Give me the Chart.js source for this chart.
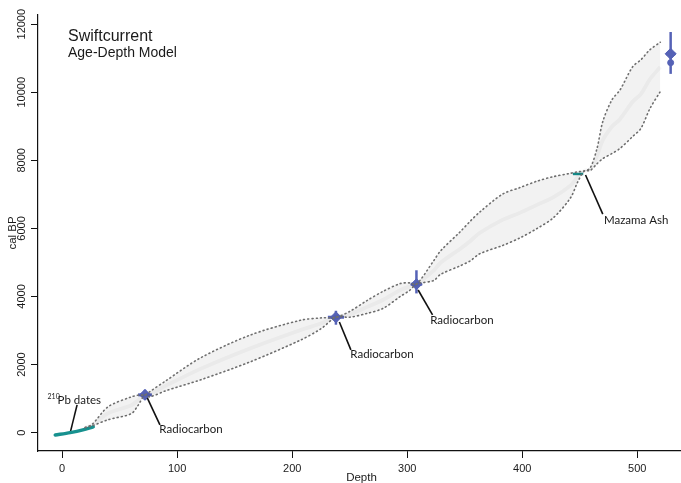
<!DOCTYPE html>
<html>
<head>
<meta charset="utf-8">
<script src="https://cdn.jsdelivr.net/npm/chart.js@4.4.1/dist/chart.umd.min.js"></script>
<style>
  html, body { margin: 0; padding: 0; background: #fff; overflow: hidden; }
  #wrap { width: 681px; height: 483px; position: relative; }
</style>
</head>
<body>
<div id="wrap"><canvas id="ageDepth"></canvas></div>
<script>
/* ---------- DATA ---------- */

const titleMain = "Swiftcurrent";
const titleSub = "Age-Depth Model";
const xTitle = "Depth";
const yTitle = "cal BP";

const xTicks = [0, 100, 200, 300, 400, 500];
const yTicks = [0, 2000, 4000, 6000, 8000, 10000, 12000];

// model envelope (dotted bounds) and mean
const envDepth = [20, 26, 40, 60, 66, 72, 76, 90, 120, 163, 207, 225, 238, 250, 265, 279, 294, 302, 308, 323, 329, 346, 355, 363, 383, 398, 413, 427, 442, 448, 454, 459, 465, 470, 478, 485, 496, 503, 511, 520];
const envUpper = [150, 240, 760, 1050, 1100, 1110, 1200, 1520, 2190, 2860, 3300, 3370, 3390, 3560, 3880, 4150, 4380, 4400, 4360, 5050, 5340, 5900, 6220, 6480, 7010, 7200, 7390, 7520, 7620, 7660, 7690, 7770, 8350, 9140, 9780, 10070, 10750, 10950, 11250, 11470];
const envLower = [150, 200, 380, 555, 800, 1110, 1050, 1230, 1547, 2073, 2715, 3050, 3390, 3390, 3500, 3650, 4000, 4175, 4360, 4470, 4650, 4900, 5050, 5255, 5500, 5720, 6000, 6310, 6900, 7350, 7690, 7700, 7900, 8050, 8200, 8350, 8700, 8930, 9520, 10020];
const envMean = [150, 220, 570, 800, 950, 1110, 1125, 1375, 1870, 2470, 3010, 3210, 3390, 3475, 3690, 3900, 4190, 4290, 4360, 4760, 4995, 5400, 5635, 5870, 6255, 6460, 6695, 6915, 7260, 7505, 7690, 7735, 8125, 8595, 8990, 9210, 9725, 9940, 10385, 10745];

// radiocarbon dates (calibrated)
const rcDepth = [72, 238, 308, 529];
const rcAge = [1110, 3390, 4360, 11130];
const rcAgeLo = [960, 3170, 4090, 10540];
const rcAgeHi = [1260, 3580, 4770, 11770];
const rcDepthLo = [66, 231, 303, 525];
const rcDepthHi = [78, 245, 313, 533];
const rcBulgeDepth = [529];
const rcBulgeAge = [10870];

// 210Pb dates
const pbDepth = [-6, 7, 18, 27];
const pbAge = [-70, 0, 80, 170];

// Mazama ash
const ashDepth = [444, 453];
const ashAge = [7600, 7600];

// annotation leaders and labels
const noteText = ["Pb dates", "Radiocarbon", "Radiocarbon", "Radiocarbon", "Mazama Ash"];
const noteFromDepth = [7, 74, 241, 309.5, 455];
const noteFromAge = [0, 1020, 3250, 4190, 7570];
const noteToDepth = [13, 85, 251, 322, 470];
const noteToAge = [815, 225, 2430, 3460, 6420];
const noteLabelDepth = [-4, 84.5, 250.5, 320, 471];
const noteLabelAge = [960, 110, 2310, 3310, 6250];

/* ---------- COLORS ---------- */

const blue = "#5562b6";
const teal = "#17918f";
const dotGrey = "#6f6f6f";
const fontAxis = '"Liberation Sans", Arial, Helvetica, sans-serif';
const fontNote = 'Lato, "Open Sans", sans-serif';

/* ---------- DATASETS ---------- */

const pts = (xs, ys) => xs.map((x, i) => ({ x, y: ys[i] }));

const datasets = [
  {
    data: pts(envDepth, envUpper),
    borderColor: dotGrey,
    borderWidth: 1.6,
    borderDash: [1, 3.2],
    borderCapStyle: "round",
    backgroundColor: "rgba(0,0,0,0.05)",
    fill: "+1",
    pointRadius: 0,
    tension: 0.3,
  },
  {
    data: pts(envDepth, envLower),
    borderColor: dotGrey,
    borderWidth: 1.6,
    borderDash: [1, 3.2],
    borderCapStyle: "round",
    fill: false,
    pointRadius: 0,
    tension: 0.3,
  },
  {
    data: pts(envDepth, envMean),
    borderColor: "rgba(0,0,0,0.035)",
    borderWidth: 4,
    fill: false,
    pointRadius: 0,
    tension: 0.3,
  },
  {
    data: pts(pbDepth, pbAge),
    borderColor: teal,
    borderWidth: 3.5,
    borderCapStyle: "round",
    fill: false,
    pointRadius: 0,
    tension: 0.3,
  },
  {
    data: pts(ashDepth, ashAge),
    borderColor: teal,
    borderWidth: 2.5,
    fill: false,
    pointRadius: 0,
  },
];

// annotation leaders
noteText.forEach((t, i) => {
  datasets.push({
    data: [
      { x: noteFromDepth[i], y: noteFromAge[i] },
      { x: noteToDepth[i], y: noteToAge[i] },
    ],
    borderColor: "#111",
    borderWidth: 1.6,
    fill: false,
    pointRadius: 0,
  });
});

// radiocarbon probability crosses
rcDepth.forEach((d, i) => {
  datasets.push({
    data: [
      { x: d, y: rcAgeLo[i] },
      { x: d, y: rcAgeHi[i] },
    ],
    borderColor: blue,
    borderWidth: 2.5,
    fill: false,
    pointRadius: 0,
  });
  datasets.push({
    data: [
      { x: rcDepthLo[i], y: rcAge[i] },
      { x: rcDepthHi[i], y: rcAge[i] },
    ],
    borderColor: blue,
    borderWidth: 3,
    fill: false,
    pointRadius: 0,
  });
});

datasets.push({
  type: "scatter",
  data: pts(rcDepth, rcAge),
  pointStyle: "rectRot",
  pointRadius: 5.5,
  backgroundColor: blue,
  borderColor: blue,
  borderWidth: 1,
});

datasets.push({
  type: "scatter",
  data: pts(rcBulgeDepth, rcBulgeAge),
  pointStyle: "circle",
  pointRadius: 3,
  backgroundColor: blue,
  borderColor: blue,
});

/* ---------- TEXT PLUGIN ---------- */

const textPlugin = {
  id: "textPlugin",
  afterDraw(chart) {
    const { ctx, scales } = chart;
    const x = scales.x;
    const y = scales.y;
    const area = chart.chartArea;
    ctx.save();
    ctx.fillStyle = "#1a1a1a";

    // title block
    ctx.textAlign = "left";
    ctx.textBaseline = "alphabetic";
    ctx.font = "16px " + fontAxis;
    ctx.fillText(titleMain, 68, 41);
    ctx.font = "14px " + fontAxis;
    ctx.fillText(titleSub, 68, 57);

    // y tick labels, rotated like base R
    ctx.font = "11px " + fontAxis;
    ctx.textAlign = "center";
    ctx.textBaseline = "middle";
    yTicks.forEach((v) => {
      const py = y.getPixelForValue(v);
      ctx.save();
      ctx.translate(22, py);
      ctx.rotate(-Math.PI / 2);
      ctx.fillText(String(v), 0, 0);
      ctx.restore();
    });

    // axis titles
    ctx.font = "11.5px " + fontAxis;
    ctx.save();
    ctx.translate(13, (area.top + area.bottom) / 2);
    ctx.rotate(-Math.PI / 2);
    ctx.fillText(yTitle, 0, 0);
    ctx.restore();
    ctx.fillText(xTitle, (area.left + area.right) / 2 + 2, 478);

    // annotation labels
    ctx.textAlign = "left";
    noteText.forEach((t, i) => {
      const px = x.getPixelForValue(noteLabelDepth[i]);
      const py = y.getPixelForValue(noteLabelAge[i]);
      if (i === 0) {
        ctx.font = "7px " + fontNote;
        ctx.fillText("210", px - 10, py - 3);
      }
      ctx.font = "11.5px " + fontNote;
      ctx.fillText(t, px, py);
    });

    ctx.restore();
  },
};

/* ---------- CHART ---------- */

new Chart(document.getElementById("ageDepth"), {
  type: "line",
  data: { datasets },
  options: {
    responsive: true,
    maintainAspectRatio: false,
    animation: false,
    layout: {
      autoPadding: false,
      padding: { top: 15, right: 0, left: 0, bottom: 0 },
    },
    plugins: {
      legend: { display: false },
      tooltip: { enabled: false },
    },
    scales: {
      x: {
        type: "linear",
        min: -21,
        max: 538,
        afterBuildTicks: (s) => {
          s.ticks = xTicks.map((v) => ({ value: v }));
        },
        afterFit: (s) => {
          s.height = 32;
        },
        grid: {
          drawOnChartArea: false,
          drawTicks: true,
          tickLength: 7,
          color: "#111",
        },
        border: { display: true, color: "#111", width: 1.2 },
        ticks: {
          color: "#1a1a1a",
          padding: 4,
          maxRotation: 0,
          font: { family: fontAxis, size: 11 },
        },
      },
      y: {
        type: "linear",
        min: -540,
        max: 12270,
        afterBuildTicks: (s) => {
          s.ticks = yTicks.map((v) => ({ value: v }));
        },
        afterFit: (s) => {
          s.width = 38;
        },
        grid: {
          drawOnChartArea: false,
          drawTicks: true,
          tickLength: 7,
          color: "#111",
        },
        border: { display: true, color: "#111", width: 1.2 },
        ticks: { display: false },
      },
    },
  },
  plugins: [textPlugin],
});
</script>
</body>
</html>
